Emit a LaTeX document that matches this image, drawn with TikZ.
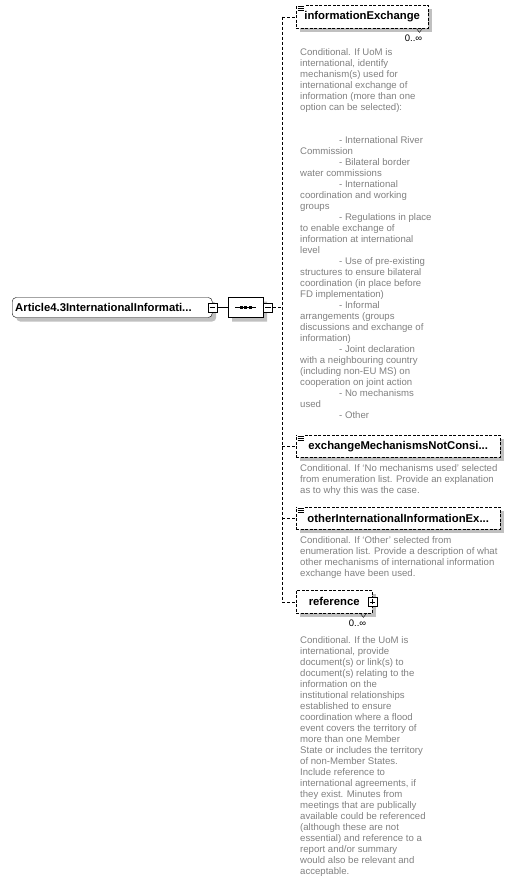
\documentclass[tikz,border=0pt]{standalone}
\usepackage{fontspec}
\setmainfont{Liberation Sans}
\usetikzlibrary{positioning, shapes.misc, shadows}
\definecolor{annogray}{RGB}{128,128,128}
\definecolor{shadegray}{RGB}{192,192,192}

\begin{document}
\begin{tikzpicture}[x=1pt, y=-1pt,
  elem/.style={rectangle, draw, fill=white, font=\fontsize{11.3}{13}\selectfont\bfseries, inner sep=0pt, minimum height=22pt, drop shadow={shadow xshift=4pt, shadow yshift=-4pt, fill=shadegray, opacity=1}},
  optelem/.style={elem, dash pattern=on 3pt off 1.5pt},
  anno/.style={inner sep=0pt, align=left, text=annogray, font=\fontsize{9.6}{11}\selectfont},
  mult/.style={inner sep=0pt, font=\fontsize{9.5}{11}\selectfont},
  pm/.style={rectangle, draw, fill=white, minimum size=9pt, inner sep=0pt},
  link/.style={dash pattern=on 3pt off 2pt},
]
\useasboundingbox (0,0) rectangle (512,881);

% root element and sequence
\node[elem, rounded corners=4pt, anchor=west, text width=194pt, inner xsep=3pt, minimum height=20pt, align=left] (root) at (12,307.5) {Article4.3InternationalInformati...};
\node[pm] (rootpm) at (root.east) {};
\draw ([xshift=2pt]rootpm.west) -- ([xshift=-2pt]rootpm.east);

\node[chamfered rectangle, chamfered rectangle xsep=6pt, chamfered rectangle ysep=6pt, draw, fill=white, inner sep=0pt, minimum width=35pt, minimum height=20pt, anchor=west, drop shadow={shadow xshift=4pt, shadow yshift=-4pt, fill=shadegray, opacity=1}] (seq) at (228,307.5) {};
\draw ([xshift=7pt]seq.west) -- ([xshift=-7pt]seq.east);
\foreach \dx in {-4.5,0,4.5}
  \fill ([xshift=\dx pt]seq.center) ++(-1.5,-1.5) rectangle ++(3,3);
\node[pm, right=0pt of seq] (seqpm) {};
\draw ([xshift=2pt]seqpm.west) -- ([xshift=-2pt]seqpm.east);

\draw (rootpm) -- (seq);

% child elements
\node[optelem, anchor=north west, minimum width=132pt, minimum height=23pt] (ie) at (296,5) {informationExchange};
\node[optelem, anchor=north west, minimum width=204pt] (em) at (296,435) {exchangeMechanismsNotConsi...};
\node[optelem, anchor=north west, minimum width=204pt] (oi) at (296,507) {otherInternationalInformationEx...};
\node[optelem, anchor=north west, minimum width=76pt, minimum height=23pt] (ref) at (296,590) {reference};
\node[pm] (refpm) at (ref.east) {};
\draw ([xshift=2pt]refpm.west) -- ([xshift=-2pt]refpm.east);
\draw ([yshift=2pt]refpm.south) -- ([yshift=-2pt]refpm.north);

% documentation icons
\foreach \n in {ie,em,oi} {
  \fill[white] ([shift={(0.5,-1)}]\n.north west) rectangle ++(8,8);
  \foreach \dy in {1,3.4,5.8}
    \draw[line width=0.8pt] ([shift={(1.5,\dy)}]\n.north west) -- ++(6,0);
}

% occurrence marks
\foreach \n in {ie,ref} {
  \draw ([xshift=-12pt]\n.south east) -- ++(3,4) -- ++(3,-4);
  \node[mult, below left=6pt and 6pt of \n.south east] (\n-mult) {0..∞};
}

% connectors
\coordinate (bus) at (282,307.5);
\draw[link] (seqpm) -- (bus);
\draw[link] (bus |- ie.west) -- (bus |- ref.west);
\foreach \n in {ie,em,oi,ref}
  \draw[link] (bus |- \n.west) -- (\n.west);

% annotations
\node[anno, below right=20pt and 4pt of ie.south west] (ie-doc) {Conditional. If UoM is\\
international, identify\\
mechanism(s) used for\\
international exchange of\\
information (more than one\\
option can be selected):\\[22pt]
\hspace*{39pt}- International River\\
Commission\\
\hspace*{39pt}- Bilateral border\\
water commissions\\
\hspace*{39pt}- International\\
coordination and working\\
groups\\
\hspace*{39pt}- Regulations in place\\
to enable exchange of\\
information at international\\
level\\
\hspace*{39pt}- Use of pre-existing\\
structures to ensure bilateral\\
coordination (in place before\\
FD implementation)\\
\hspace*{39pt}- Informal\\
arrangements (groups\\
discussions and exchange of\\
information)\\
\hspace*{39pt}- Joint declaration\\
with a neighbouring country\\
(including non-EU MS) on\\
cooperation on joint action\\
\hspace*{39pt}- No mechanisms\\
used\\
\hspace*{39pt}- Other};

\node[anno, below right=7pt and 4pt of em.south west] (em-doc) {Conditional. If `No mechanisms used' selected\\
from enumeration list. Provide an explanation\\
as to why this was the case.};

\node[anno, below right=7pt and 4pt of oi.south west] (oi-doc) {Conditional. If `Other' selected from\\
enumeration list. Provide a description of what\\
other mechanisms of international information\\
exchange have been used.};

\node[anno, below right=23pt and 4pt of ref.south west] (ref-doc) {Conditional. If the UoM is\\
international, provide\\
document(s) or link(s) to\\
document(s) relating to the\\
information on the\\
institutional relationships\\
established to ensure\\
coordination where a flood\\
event covers the territory of\\
more than one Member\\
State or includes the territory\\
of non-Member States.\\
Include reference to\\
international agreements, if\\
they exist. Minutes from\\
meetings that are publically\\
available could be referenced\\
(although these are not\\
essential) and reference to a\\
report and/or summary\\
would also be relevant and\\
acceptable.};
\end{tikzpicture}
\end{document}
